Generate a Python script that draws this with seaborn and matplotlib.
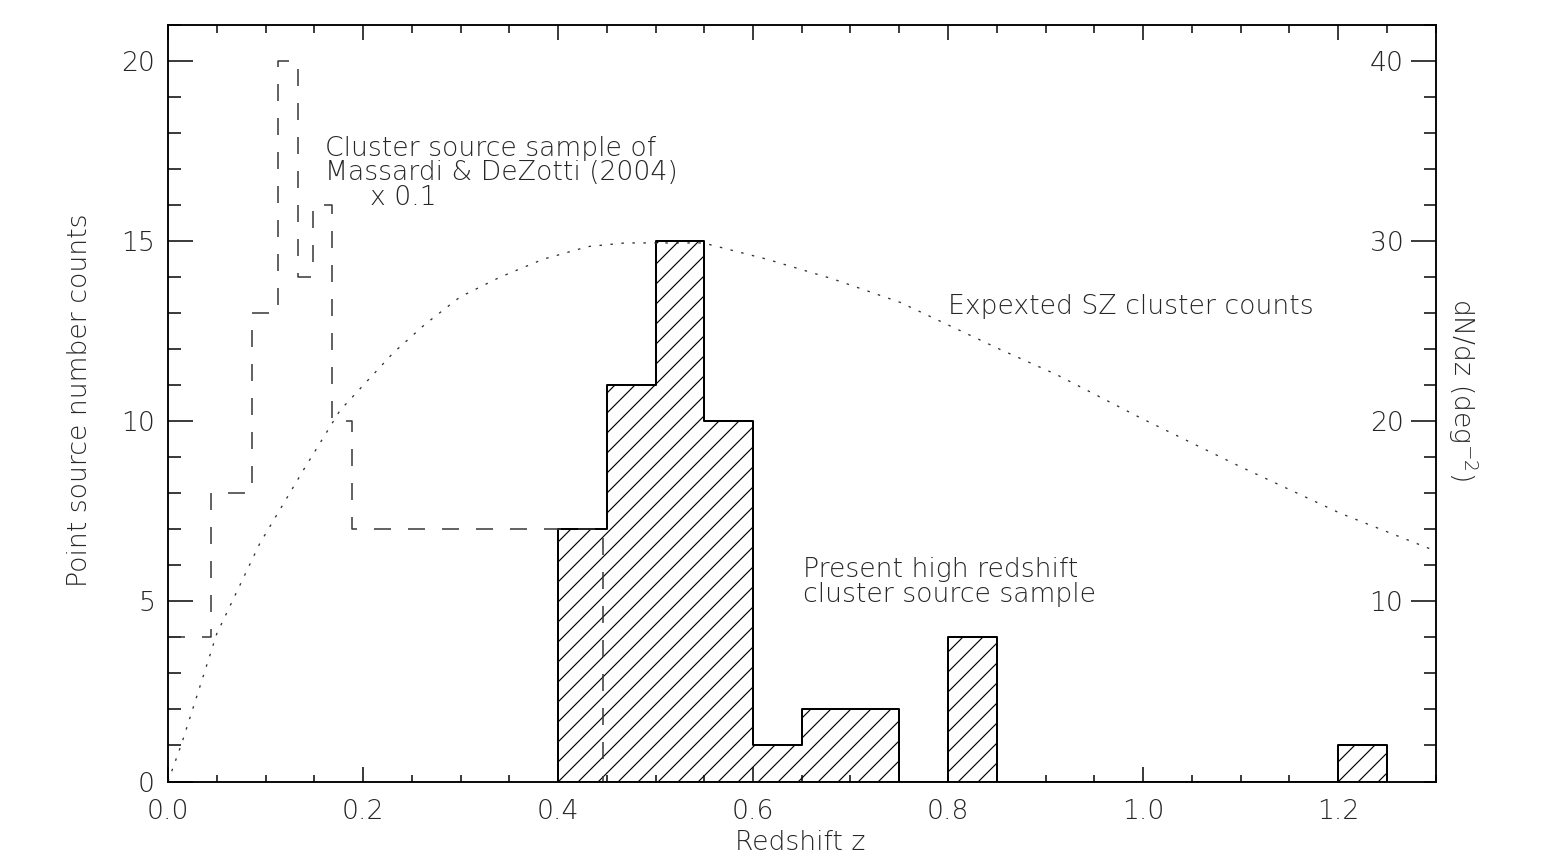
import numpy as np
import pandas as pd
import matplotlib
matplotlib.use("Agg")
import matplotlib.pyplot as plt
from matplotlib.ticker import MultipleLocator, FormatStrFormatter
import seaborn as sns

# ---------------- data ----------------
# Present high-redshift cluster source sample (bins of width 0.05)
present_edges = [0.40, 0.45, 0.50, 0.55, 0.60, 0.65, 0.70, 0.75, 0.80, 0.85,
                 0.90, 0.95, 1.00, 1.05, 1.10, 1.15, 1.20, 1.25]
present_counts = [7, 11, 15, 10, 1, 2, 2, 0, 4, 0, 0, 0, 0, 0, 0, 0, 1]

# Massardi & DeZotti (2004) cluster source sample, x 0.1
massardi_edges = [0.0, 0.0438, 0.0858, 0.113, 0.1337, 0.149, 0.1685, 0.189, 0.4465, 0.4475]
massardi_counts = [4, 8, 13, 20, 14, 16, 10, 7, 0]

# Expected SZ cluster counts dN/dz (deg^-2), right axis
sz_z = [0.0, 0.004, 0.014, 0.05, 0.094, 0.139, 0.1764, 0.2003, 0.2311, 0.264,
        0.2995, 0.3405, 0.385, 0.431, 0.4687, 0.498, 0.549, 0.614, 0.682, 0.751,
        0.802, 0.853, 0.911, 0.997, 1.099, 1.202, 1.30]
sz_dndz = [0.0, 0.6, 2.1, 8.2, 13.2, 17.3, 20.6, 22.0, 23.8, 25.4,
           26.9, 28.0, 29.0, 29.7, 29.9, 29.9, 29.9, 29.0, 27.9, 26.6,
           25.3, 24.0, 22.6, 20.2, 17.5, 14.9, 12.8]

x_ticks = [0.0, 0.2, 0.4, 0.6, 0.8, 1.0, 1.2]
left_ticks = [0, 5, 10, 15, 20]
right_ticks = [10, 20, 30, 40]

# ---------------- style ----------------
sns.set_style("ticks")
TXT = "#262626"
plt.rcParams["font.family"] = ["DejaVu Sans"]
plt.rcParams["font.weight"] = "light"
plt.rcParams["mathtext.default"] = "regular"
plt.rcParams["hatch.linewidth"] = 0.7
plt.rcParams["lines.scale_dashes"] = False
plt.rcParams["axes.linewidth"] = 0.9
FS = 16

W, H, DPI = 1545, 864, 120
fig = plt.figure(figsize=(W / DPI, H / DPI), dpi=DPI)
ax = fig.add_axes([168 / W, 1 - 781.5 / H, (1435.5 - 168) / W, (781.5 - 25) / H])
ax2 = ax.twinx()

present_centers = [(a + b) / 2 for a, b in zip(present_edges[:-1], present_edges[1:])]
massardi_centers = [(a + b) / 2 for a, b in zip(massardi_edges[:-1], massardi_edges[1:])]
df_p = pd.DataFrame({"z": present_centers, "n": present_counts})
df_m = pd.DataFrame({"z": massardi_centers, "n": massardi_counts})

# hatched histogram (present sample)
n_before = len(ax.collections)
sns.histplot(data=df_p, x="z", weights="n", bins=present_edges, element="step",
             fill=True, color="black", ax=ax)
for coll in ax.collections[n_before:]:
    coll.set_facecolor("none")
    coll.set_edgecolor("black")
    coll.set_alpha(1)
    coll.set_hatch("//")
    coll.set_linewidth(1.2)

# dashed histogram (Massardi & DeZotti x 0.1)
sns.histplot(data=df_m, x="z", weights="n", bins=massardi_edges, element="step",
             fill=False, color="#333333", linewidth=0.9,
             linestyle=(0, (10.2, 10.2)), ax=ax)

# dotted SZ curve on right axis
sns.lineplot(x=sz_z, y=sz_dndz, ax=ax2, color="#333333", linewidth=0.8,
             linestyle=(0, (1.5, 5.1)))

# ---------------- axes ----------------
ax.set_xlim(0, 1.3)
ax.set_ylim(0, 21)
ax2.set_ylim(0, 42)
ax.set_xlabel("")
ax.set_ylabel("")
ax2.set_ylabel("")

ax.set_xticks(x_ticks)
ax.xaxis.set_major_formatter(FormatStrFormatter("%.1f"))
ax.xaxis.set_minor_locator(MultipleLocator(0.05))
ax.set_yticks(left_ticks)
ax.yaxis.set_minor_locator(MultipleLocator(1))
ax2.set_yticks(right_ticks)
ax2.yaxis.set_minor_locator(MultipleLocator(2))

ax.tick_params(axis="x", which="both", direction="in", top=True, bottom=True,
               width=0.9, color="black", labelsize=FS, labelcolor=TXT, pad=10.5)
ax.tick_params(axis="x", which="major", length=9)
ax.tick_params(axis="x", which="minor", length=4.5)
ax.tick_params(axis="y", which="both", direction="in", left=True, right=False,
               width=0.9, color="black", labelsize=FS, labelcolor=TXT, pad=7.8)
ax.tick_params(axis="y", which="major", length=15)
ax.tick_params(axis="y", which="minor", length=7.5)
ax2.tick_params(axis="y", which="both", direction="in", left=False, right=True,
                width=0.9, color="black", labelsize=FS, labelcolor=TXT, pad=-19.2)
ax2.tick_params(axis="y", which="major", length=15)
ax2.tick_params(axis="y", which="minor", length=7.5)
for lab in ax2.get_yticklabels():
    lab.set_horizontalalignment("right")

for a in (ax, ax2):
    for s in a.spines.values():
        s.set_visible(True)
        s.set_color("black")
        s.set_linewidth(0.9)

# ---------------- text ----------------
tk = dict(fontsize=FS, color=TXT)
ax.text(0.161, 17.375, "Cluster source sample of", va="baseline", ha="left", **tk)
ax.text(0.161, 16.69, "Massardi & DeZotti (2004)", va="baseline", ha="left", **tk)
ax.text(0.2072, 15.99, "x 0.1", va="baseline", ha="left", **tk)
ax.text(0.80, 12.98, "Expexted SZ cluster counts", va="baseline", ha="left", **tk)
ax.text(0.651, 5.69, "Present high redshift", va="baseline", ha="left", **tk)
ax.text(0.651, 4.97, "cluster source sample", va="baseline", ha="left", **tk)

fig.text(800 / W, 1 - 842 / H, "Redshift z", ha="center", va="center", **tk)
fig.text(80 / W, 1 - 400 / H, "Point source number counts", rotation=90,
         ha="center", va="center", **tk)
fig.text(1463 / W, 1 - 389 / H, "dN/dz (deg$^{-2}$)", rotation=-90,
         ha="center", va="center", **tk)

fig.savefig("out.png", dpi=DPI, facecolor="white")
